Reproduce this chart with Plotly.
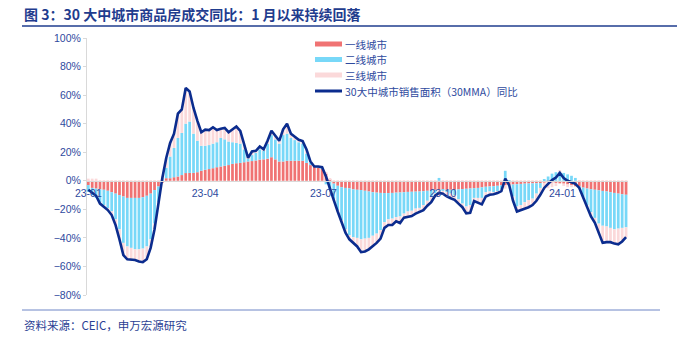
import pandas as pd
import plotly.graph_objects as go

start_date = "2023-01-01"
step = "3D"

tier1 = [-3, -5, -5.5, -6, -6.3, -7, -8, -9, -10, -11, -12, -12, -12, -12, -11.5, -10.5, -9, -6.5, -4, -1.5,
         1.8, 1.8, 2.5, 3, 4, 5.4, 5.5, 5.5, 6, 7, 7.7, 8.2, 8.8, 9.5, 10, 10.5, 11, 11.8, 12.3, 12.5,
         13, 13.5, 13.8, 14.2, 14.8, 15, 15.5, 16.5, 15, 13.5, 13.5, 14, 14, 14, 14, 14, 12.5, 11, 10, 9.5,
         8.5, 5, 1, -2, -3.5, -4.5, -5, -5.3, -6, -6.3, -6.5, -7, -7.5, -8, -8.3, -8.5, -8.6, -8.6, -8.5, -8.3,
         -8.2, -8, -7.8, -7.7, -7.6, -7.5, -7.3, -7, -6.6, -6.3, -6.3, -6.3, -6.3, -6.3, -6.3, -6, -5.8, -5.6, -5.4, -5.2,
         -5, -4.6, -4.2, -4, -3.8, -3.5, -3.2, -3, -2.8, -2.6, -2.4, -2.2, -2, -1.9, -1.8, -1.7, -1.6, -1.4, -1.2, -1.2,
         -1.5, -1.8, -2, -2.5, -3, -3.7, -4.2, -4.8, -5.4, -5.9, -6.3, -6.7, -7.1, -7.5, -8, -8.5, -9, -9.4, -9.8]

tier2 = [-4.8, -5.1, -6.5, -9, -10.7, -12.5, -13.4, -18, -24, -32.5, -34, -35, -36, -36, -36, -35.5, -32, -23.5, -11, 2.5,
         7.2, 15.2, 20.5, 27, 29.5, 34.6, 36, 27.5, 22, 17.5, 16.8, 16.8, 17.2, 17.5, 20, 18.5, 16.5, 15.2, 14.2, 13.5,
         9, 2, 4.2, 5.8, 7.2, 6, 10.5, 15.5, 14, 12.5, 18.5, 19, 16, 14.5, 13, 12, 6.5, 1.5, 0, 0.5,
         0.5, -2.5, -6, -11, -17.5, -23, -29, -32.7, -33.5, -33.7, -34.5, -33.5, -32.5, -30.5, -28.7, -26, -20.4, -18.4, -18, -17.2,
         -16.8, -15, -13.7, -13.3, -11.9, -11.5, -9.7, -7, -4.9, -2.3, 2, -0.7, -1.7, -2.7, -3.7, -7, -10.2, -12.4, -11.6, -6.8,
         -7, -7.4, -3.8, -3.5, -4.2, -4, -2.8, 7, 0.5, -8.4, -15.6, -14.8, -13, -11.6, -10.7, -7.3, -3.4, 1, 3, 5,
         6, 6.5, 5.5, 4.5, 3.5, 2, -1, -6.7, -11.6, -16.1, -19.7, -23.3, -24.4, -24.5, -25, -25.5, -24.5, -23.6, -22.8]

tier3 = [1.5, 1.5, 1.5, -1, -1.5, -1, -2.6, -4, -7, -8.5, -9, -8, -7.5, -8.5, -9.5, -9, -6, -4, -0.6, 1,
         7, 9.5, 10, 17, 16.5, 25, 21, 18, 14, 9.5, 11.3, 10.5, 11.5, 8.6, 6.5, 8, 6.5, 9, 11.5, 9,
         3, 0.5, 2.5, 1, 2, 1, 2, 3, 2.5, 2, 4, 7, 3, 2, 1.7, 1.8, 3, 1, 0, 0,
         0.5, 0.5, 0.5, -0.5, -0.5, -1, -2.4, -3, -4, -6, -9, -9, -8, -7.5, -6.5, -6, -4, -4, -4.5, -2.9,
         -4.6, -2.8, -3.5, -3.7, -3.5, -2.7, -3.6, -3.5, -3.5, -1.9, -4.2, -2, -3, -3.2, -3.3, -3, -2.5, -4.8, -5.5, -2.2,
         -3.5, -4.5, -3, -2.3, -1.4, -1.1, -1.2, -2.5, -0.7, -3, -3.5, -3.5, -4.8, -5, -4.5, -5, -4.8, -4.6, -4, -3.3,
         -2.2, 0.8, -1.6, -2, -1.5, -0.5, 0.2, 0, -1.5, -3, -3.5, -7, -12, -11, -10, -10, -11, -9.5, -7]

total_yoy = [-6.3, -8.6, -10.5, -16, -18.5, -20.5, -24, -31, -41, -52, -55, -55, -55.5, -56.5, -57, -55, -47, -34, -15.6, 2,
             16, 26.5, 33, 47, 50, 65, 62.5, 51, 42, 34, 35.8, 35.5, 37.5, 35.6, 36.5, 37, 34, 36, 38, 35,
             25, 16, 20.5, 21, 24, 22, 28, 35, 31.5, 28, 36, 40, 33, 30.5, 28.7, 27.8, 22, 13.5, 10, 10,
             9.5, 3, -4.5, -13.5, -21.5, -28.5, -36.4, -41, -43.5, -46, -50, -49.5, -48, -46, -43.5, -40.5, -33, -31, -31, -28.4,
             -29.6, -25.8, -25, -24.7, -23, -21.7, -20.6, -17.5, -15, -10.5, -8.5, -9, -11, -12.2, -13.3, -16, -18.5, -22.8, -22.5, -14.2,
             -15.5, -16.5, -11, -9.8, -9.4, -8.6, -7.2, 1.5, -3, -14, -21.5, -20.5, -19.8, -18.5, -17, -14, -9.8, -5, -2.2, 0.5,
             2.3, 5.5, 1.9, 0, -1, -2.2, -5, -11.5, -18.5, -25, -29.5, -37, -43.5, -43, -43, -44, -44.5, -42.5, -39.5]

series_names = ["一线城市", "二线城市", "三线城市", "30大中城市销售面积（30MMA）同比"]
tick_dates = ["2023-01-01", "2023-04-01", "2023-07-01", "2023-10-01", "2024-01-01"]
tick_labels = ["23-01", "23-04", "23-07", "23-10", "24-01"]

dates = pd.date_range(start_date, periods=len(total_yoy), freq=step)

RED = "#F07373"
BLUE = "#78D8F8"
PINK = "#FBD9DA"
NAVY = "#0B2C8E"
TXT = "#2E4A9E"
CJK = "Noto Sans CJK SC"
LAT = "Liberation Sans, Arial, sans-serif"
colors = [RED, BLUE, PINK, NAVY]

fig = go.Figure()
for vals, col, name in zip([tier1, tier2, tier3], colors[:3], series_names[:3]):
    fig.add_trace(go.Bar(x=dates, y=vals, name=name, marker=dict(color=col, line=dict(width=0)),
                         showlegend=False))
fig.add_trace(go.Scatter(x=dates, y=total_yoy, mode="lines", name=series_names[3],
                         line=dict(color=NAVY, width=2.6), showlegend=False))

L, T, W, H = 87, 38, 541, 257
def px_x(p):
    return (p - L) / W
def px_y(p):
    return (T + H - p) / H

shapes = [
    dict(type="line", xref="paper", yref="paper", x0=px_x(22), x1=px_x(677), y0=px_y(26), y1=px_y(26),
         line=dict(color="#1F3C8E", width=1.5)),
    dict(type="line", xref="paper", yref="paper", x0=px_x(22), x1=px_x(660), y0=px_y(310), y1=px_y(310),
         line=dict(color="#6F86C6", width=1)),
]
annotations = [
    dict(text="<b>图 3：30 大中城市商品房成交同比：1 月以来持续回落</b>", xref="paper", yref="paper",
         x=px_x(22), y=px_y(14), xanchor="left", yanchor="middle", showarrow=False,
         font=dict(family=CJK, size=14, color="#1F3C8E")),
    dict(text="资料来源：CEIC，申万宏源研究", xref="paper", yref="paper",
         x=px_x(22), y=px_y(325), xanchor="left", yanchor="middle", showarrow=False,
         font=dict(family=CJK, size=11.5, color="#2B3F94")),
]
# manual legend (compact spacing as in the original)
leg_rows = [44, 59.5, 75, 91]
for name, col, row, w in zip(series_names, colors, leg_rows, [5, 5, 5, 3]):
    shapes.append(dict(type="line", xref="paper", yref="paper", x0=px_x(315), x1=px_x(342),
                       y0=px_y(row), y1=px_y(row), line=dict(color=col, width=w)))
    annotations.append(dict(text=name, xref="paper", yref="paper", x=px_x(343), y=px_y(row),
                            xanchor="left", yanchor="middle", showarrow=False,
                            font=dict(family=CJK, size=10.5, color=TXT)))

fig.update_layout(
    width=677, height=341,
    margin=dict(l=L, r=677 - L - W, t=T, b=341 - T - H),
    paper_bgcolor="white", plot_bgcolor="white",
    barmode="relative", bargap=0.3,
    showlegend=False,
    xaxis=dict(type="date", range=["2022-12-31", "2024-02-20 12:00"],
               anchor="free", position=80 / 180,
               tickvals=tick_dates, ticktext=tick_labels,
               showline=True, linecolor="#D9D9D9", linewidth=1,
               ticks="outside", ticklen=3, tickcolor="rgba(0,0,0,0)",
               showgrid=False, zeroline=False,
               tickfont=dict(family=LAT, size=10.5, color=TXT)),
    yaxis=dict(range=[-80, 100], dtick=20, ticksuffix="%",
               showline=True, linecolor="#D9D9D9", linewidth=1,
               ticks="outside", ticklen=3, tickcolor="#D9D9D9",
               showgrid=False, zeroline=False,
               tickfont=dict(family=LAT, size=10.5, color=TXT)),
    shapes=shapes,
    annotations=annotations,
)

fig.write_html("out.html")
